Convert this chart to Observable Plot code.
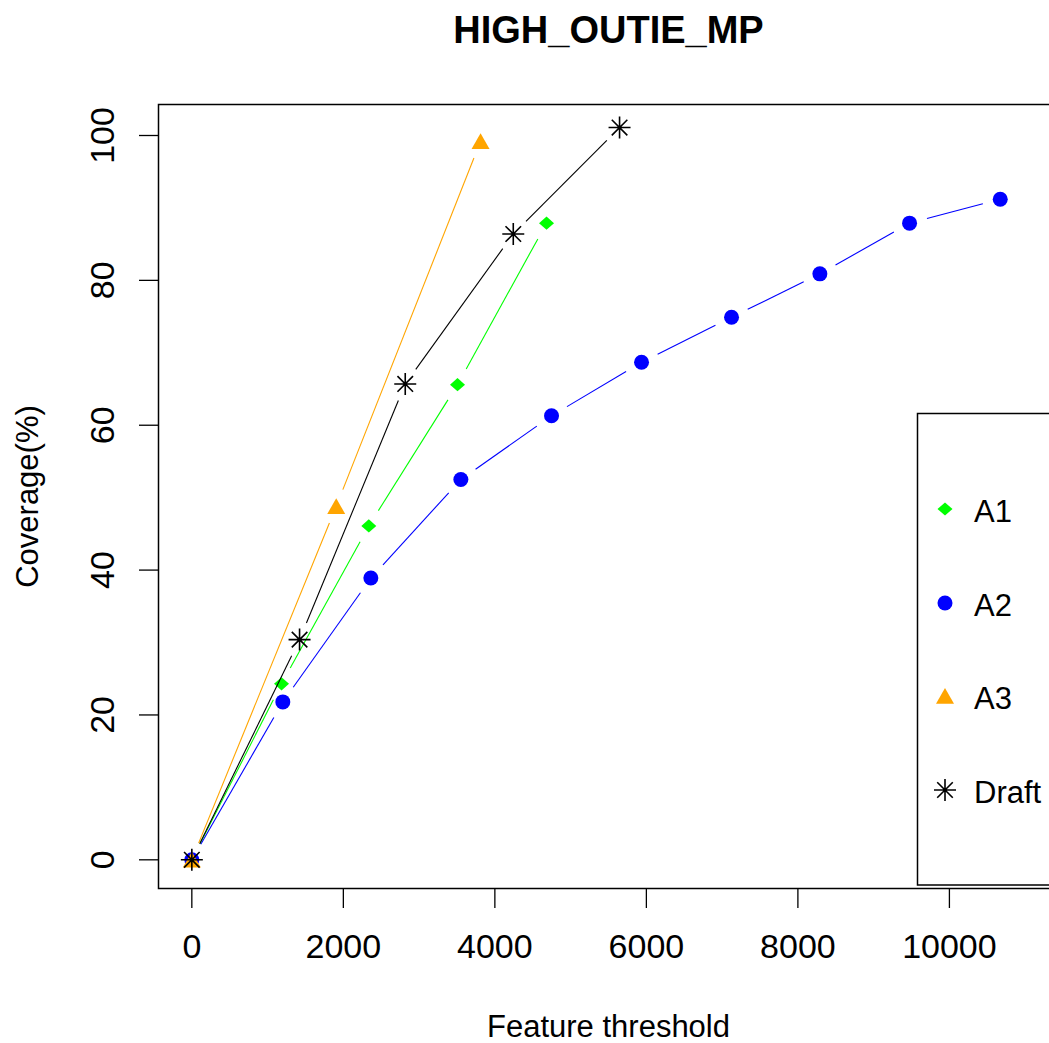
<!DOCTYPE html>
<html><head><meta charset="utf-8">
<script src="https://cdn.jsdelivr.net/npm/d3@7"></script>
<script src="https://cdn.jsdelivr.net/npm/@observablehq/plot@0.6"></script>
<style>
html,body{margin:0;padding:0;background:#fff;overflow:hidden;}
#wrap{position:relative;width:1049px;height:1043px;overflow:hidden;background:#fff;}
#wrap svg{position:absolute;left:0;top:0;max-width:none !important;}
</style></head>
<body><div id="wrap"></div>
<script>
// ---- data ----
const chartTitle = "HIGH_OUTIE_MP";
const xTitle = "Feature threshold";
const yTitle = "Coverage(%)";
const series = ["A1", "A2", "A3", "Draft"];
const seriesColors = ["#00ff00", "#0000ff", "#ffa500", "#000000"];
const a1X = [0, 1184, 2336, 3507, 4682];
const a1Y = [0, 24.3, 46.1, 65.6, 87.9];
const a2X = [0, 1201, 2363, 3551, 4748, 5936, 7124, 8290, 9474, 10671];
const a2Y = [0, 21.8, 38.9, 52.5, 61.3, 68.7, 74.9, 80.9, 87.9, 91.2];
const a3X = [0, 1906, 3811];
const a3Y = [0, 48.8, 99.2];
const draftX = [0, 1422, 2817, 4243, 5646];
const draftY = [0, 30.4, 65.7, 86.4, 101.1];
const xTicks = [0, 2000, 4000, 6000, 8000, 10000];
const yTicks = [0, 20, 40, 60, 80, 100];

const xs = [a1X, a2X, a3X, draftX];
const ys = [a1Y, a2Y, a3Y, draftY];

// ---- symbols (R pch 18, 16, 17, 8) ----
function mkSym(fn) { return {draw(ctx, size) { fn(ctx, Math.sqrt(size / Math.PI)); }}; }
const symDiamond = mkSym((c, r) => { c.moveTo(0, -r * 0.88); c.lineTo(r, 0); c.lineTo(0, r * 0.88); c.lineTo(-r, 0); c.closePath(); });
const symCircle = mkSym((c, r) => { c.moveTo(r, 0); c.arc(0, 0, r, 0, 2 * Math.PI); c.closePath(); });
const symTriangle = mkSym((c, r) => { c.moveTo(0, -r * 0.9); c.lineTo(r, r * 0.85); c.lineTo(-r, r * 0.85); c.closePath(); });
const symStar = mkSym((c, r) => {
  for (let k = 0; k < 4; ++k) {
    const a = k * Math.PI / 4, dx = r * Math.cos(a), dy = r * Math.sin(a);
    c.moveTo(-dx, -dy); c.lineTo(dx, dy);
  }
});
const symbols = [symDiamond, symCircle, symTriangle, symStar];
const symR = [7.5, 7.5, 9, 11];
const filled = [true, true, true, false];
const gap = 18; // R type="b" gap around each point, px

const narrow = "'Liberation Sans Narrow', 'Arial Narrow', 'Liberation Sans', Arial, sans-serif";
const regular = "'Liberation Sans', Arial, sans-serif";

const layout = {
  width: 1100, height: 1043,
  marginLeft: 158, marginRight: 42, marginTop: 104, marginBottom: 155,
  style: {fontFamily: regular, background: "white", overflow: "visible", maxWidth: "none"},
  x: {domain: [-440, 11440]},
  y: {domain: [-3.96, 104.28]}
};

// first pass: obtain the scales so the line segments can leave R-style gaps round points
const probe = Plot.plot({...layout, marks: [Plot.frame()]});
const sx = probe.scale("x"), sy = probe.scale("y");

const pts = series.map((s, i) => xs[i].map((x, j) => ({series: s, x, y: ys[i][j]})));
const segs = series.map((s, i) => {
  const out = [];
  for (let j = 1; j < xs[i].length; ++j) {
    const px1 = sx.apply(xs[i][j - 1]), py1 = sy.apply(ys[i][j - 1]);
    const px2 = sx.apply(xs[i][j]), py2 = sy.apply(ys[i][j]);
    const L = Math.hypot(px2 - px1, py2 - py1);
    if (L <= 2 * gap) continue;
    const ux = (px2 - px1) / L, uy = (py2 - py1) / L;
    out.push({
      series: s,
      x1: sx.invert(px1 + ux * gap), y1: sy.invert(py1 + uy * gap),
      x2: sx.invert(px2 - ux * gap), y2: sy.invert(py2 - uy * gap)
    });
  }
  return out;
});

const marks = [];
series.forEach((s, i) => {
  marks.push(Plot.link(segs[i], {x1: "x1", y1: "y1", x2: "x2", y2: "y2", stroke: seriesColors[i], strokeWidth: 1.1}));
  marks.push(Plot.dot(pts[i], {
    x: "x", y: "y", r: symR[i], symbol: symbols[i],
    fill: filled[i] ? seriesColors[i] : "none",
    stroke: filled[i] ? "none" : seriesColors[i],
    strokeWidth: 1.6
  }));
});

const chart = Plot.plot({
  ...layout,
  marks: [
    Plot.frame({stroke: "#000", strokeWidth: 1.5}),
    Plot.axisX({ticks: xTicks, tickSize: 20, tickPadding: 25, tickFormat: d => String(d), fontSize: 34, fontFamily: narrow, label: null, strokeWidth: 1.3}),
    Plot.axisY({ticks: yTicks, tickSize: 19, tickFormat: () => "", label: null, strokeWidth: 1.3}),
    Plot.text(yTicks, {y: d => d, text: d => String(d), frameAnchor: "left", rotate: -90, textAnchor: "middle", lineAnchor: "bottom", dx: -45, fontSize: 34, fontFamily: narrow}),
    Plot.text([yTitle], {text: d => d, frameAnchor: "left", rotate: -90, textAnchor: "middle", lineAnchor: "bottom", dx: -121, fontSize: 31}),
    Plot.text([xTitle], {text: d => d, frameAnchor: "bottom", lineAnchor: "bottom", dy: 148, fontSize: 31}),
    Plot.text([chartTitle], {text: d => d, frameAnchor: "top", lineAnchor: "bottom", dy: -62, fontSize: 38, fontWeight: "bold"}),
    ...marks
  ]
});
chart.style.maxWidth = "none";
chart.style.width = "1100px";
chart.style.height = "1043px";
document.getElementById("wrap").appendChild(chart);

// ---- legend (R legend box at right) ----
const leg = d3.select("#wrap").append("svg")
  .attr("width", 1049).attr("height", 1043)
  .style("font-family", regular);
leg.append("rect").attr("x", 917.5).attr("y", 413.5).attr("width", 300).attr("height", 471.5)
  .attr("fill", "none").attr("stroke", "#000").attr("stroke-width", 1.5);
const legY = [509, 603, 696, 790];
series.forEach((s, i) => {
  leg.append("path")
    .attr("transform", `translate(945,${legY[i]})`)
    .attr("d", d3.symbol().type(symbols[i]).size(Math.PI * symR[i] * symR[i])())
    .attr("fill", filled[i] ? seriesColors[i] : "none")
    .attr("stroke", filled[i] ? "none" : seriesColors[i])
    .attr("stroke-width", 1.6);
  leg.append("text").attr("x", 974).attr("y", legY[i] + 13).attr("font-size", 31).attr("fill", "#000").text(s);
});
</script>
</body></html>
